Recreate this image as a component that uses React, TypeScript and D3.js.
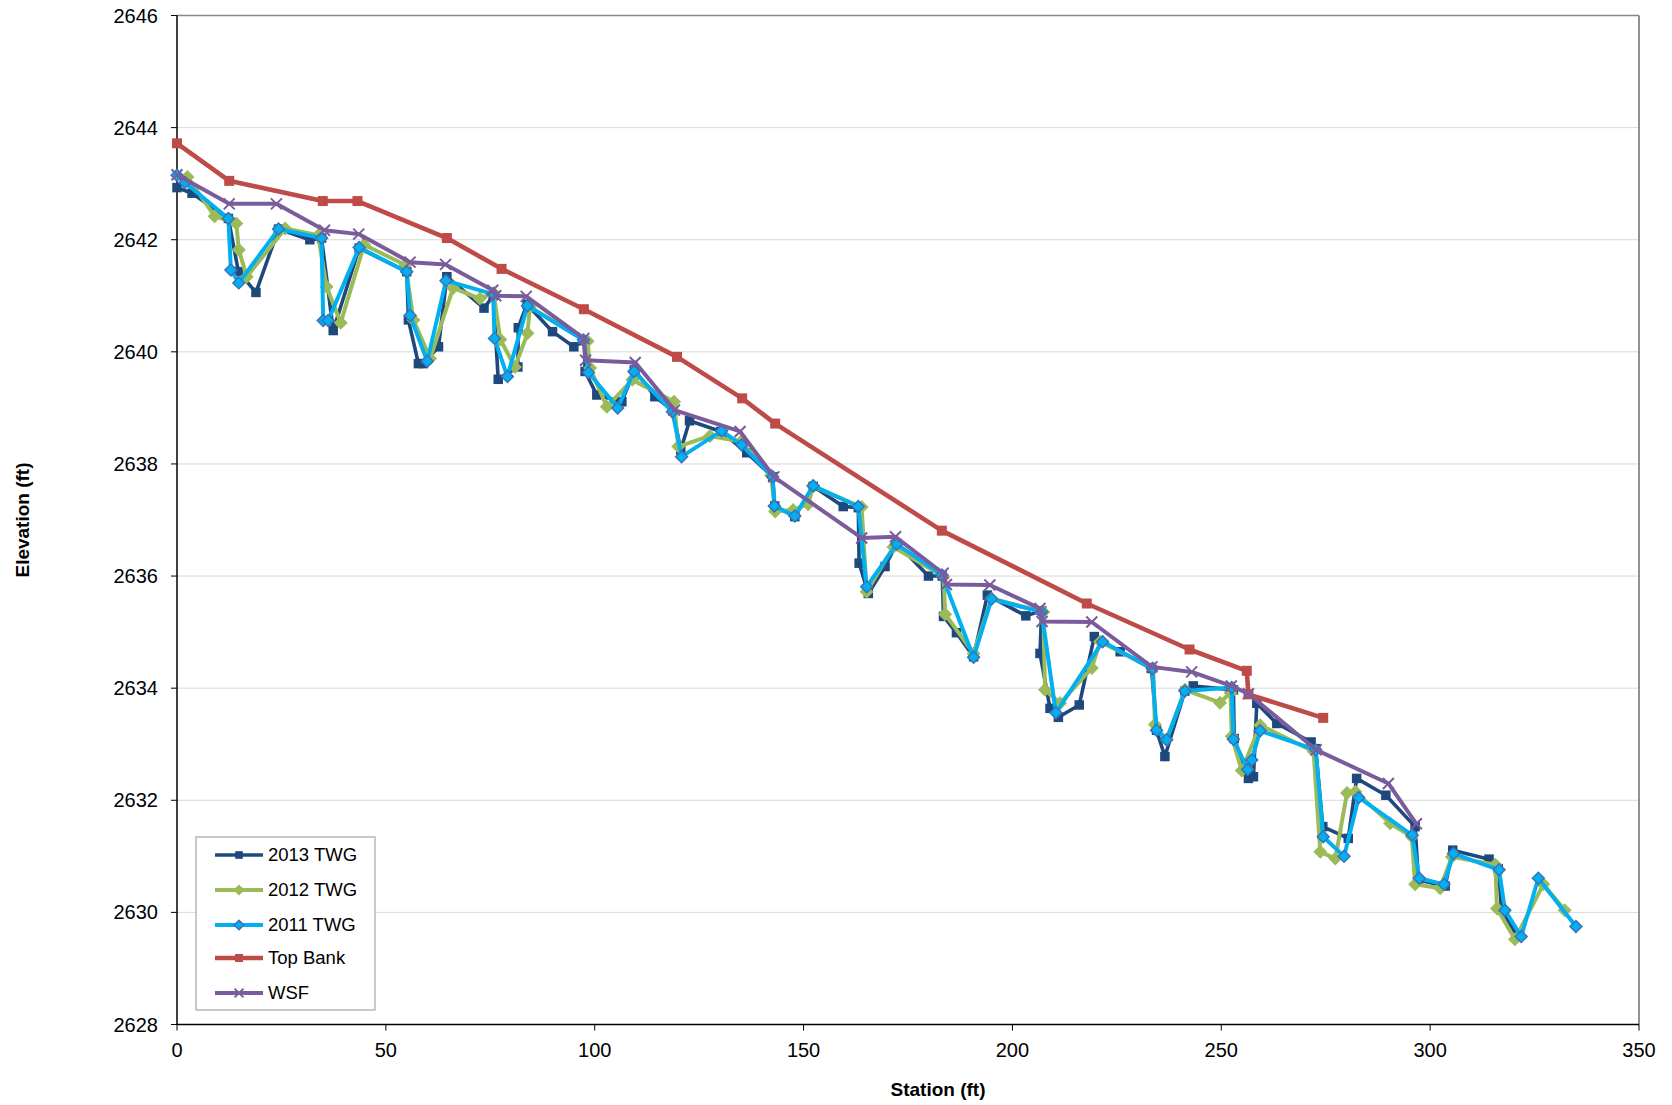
import React from "react";
import * as d3 from "d3";

type P = [number, number];

const twg2013: P[] = [
  [0, 2642.93], [3.6, 2642.83], [12.3, 2642.38], [14.7, 2641.43], [18.9, 2641.06], [24.3, 2642.19],
  [31.8, 2642.0], [34.6, 2642.03], [37.4, 2640.38], [43.6, 2641.85], [55.0, 2641.43], [55.4, 2640.57],
  [57.8, 2639.79], [59.0, 2639.79], [62.6, 2640.09], [64.6, 2641.34], [73.5, 2640.78], [75.7, 2641.0],
  [76.9, 2639.51], [81.6, 2639.73], [81.7, 2640.43], [83.8, 2640.85], [89.9, 2640.36], [95.0, 2640.09],
  [97.5, 2640.2], [97.7, 2639.65], [100.5, 2639.23], [106.5, 2639.11], [109.5, 2639.68], [114.4, 2639.2],
  [118.7, 2638.95], [120.6, 2638.25], [122.7, 2638.77], [130.2, 2638.58], [136.4, 2638.2], [142.6, 2637.77],
  [143.1, 2637.25], [147.9, 2637.06], [152.3, 2637.6], [159.5, 2637.24], [163.1, 2637.22], [163.3, 2636.23],
  [165.5, 2635.69], [169.5, 2636.17], [172.3, 2636.58], [179.9, 2636.0], [183.2, 2636.0], [183.5, 2635.28],
  [186.6, 2634.99], [190.7, 2634.56], [194.0, 2635.66], [203.2, 2635.29], [207.0, 2635.38], [206.6, 2634.62],
  [209.0, 2633.64], [211.0, 2633.48], [216.0, 2633.7], [219.6, 2634.92], [225.8, 2634.65], [233.3, 2634.35],
  [234.5, 2633.25], [236.5, 2632.78], [241.3, 2633.95], [243.3, 2634.04], [252.9, 2633.97], [253.1, 2633.1],
  [256.5, 2632.39], [257.7, 2632.42], [258.5, 2633.73], [263.3, 2633.37], [271.5, 2633.04], [272.6, 2632.92],
  [274.3, 2631.53], [280.4, 2631.32], [282.4, 2632.39], [289.4, 2632.09], [296.4, 2631.53], [297.2, 2630.58],
  [303.6, 2630.47], [305.4, 2631.11], [314.1, 2630.95], [316.3, 2630.78], [317.1, 2630.04], [320.7, 2629.6],
];

const twg2012: P[] = [
  [2.5, 2643.12], [9.0, 2642.42], [14.2, 2642.29], [14.8, 2641.82], [16.7, 2641.34], [25.9, 2642.2],
  [33.8, 2642.08], [35.8, 2641.16], [39.2, 2640.52], [44.8, 2641.91], [54.7, 2641.55], [56.6, 2640.57],
  [60.6, 2639.88], [66.1, 2641.14], [72.5, 2640.95], [75.8, 2641.05], [77.4, 2640.22], [80.9, 2639.73],
  [83.9, 2640.33], [84.5, 2640.8], [98.3, 2640.19], [98.9, 2639.71], [102.9, 2639.02], [109.0, 2639.5],
  [119.0, 2639.11], [120.0, 2638.31], [127.6, 2638.5], [135.0, 2638.4], [142.2, 2637.8], [143.2, 2637.15],
  [147.5, 2637.18], [151.1, 2637.28], [152.3, 2637.6], [163.9, 2637.23], [165.1, 2635.72], [171.5, 2636.52],
  [183.5, 2635.99], [183.9, 2635.32], [190.7, 2634.62], [195.0, 2635.6], [207.4, 2635.36], [207.8, 2633.97],
  [211.4, 2633.73], [219.0, 2634.36], [221.0, 2634.83], [233.7, 2634.35], [234.1, 2633.35], [236.9, 2633.08],
  [241.3, 2633.97], [249.7, 2633.74], [252.2, 2633.92], [252.5, 2633.14], [254.9, 2632.53], [259.3, 2633.34],
  [272.1, 2632.87], [273.7, 2631.08], [277.3, 2630.96], [280.1, 2632.13], [282.1, 2632.15], [290.4, 2631.59],
  [295.6, 2631.35], [296.4, 2630.5], [302.4, 2630.43], [305.2, 2630.99], [315.6, 2630.85], [316.0, 2630.07],
  [320.3, 2629.52], [327.1, 2630.5], [332.2, 2630.04],
];

const twg2011: P[] = [
  [0, 2643.15], [1.9, 2643.02], [12.3, 2642.38], [12.9, 2641.46], [14.8, 2641.23], [24.3, 2642.19],
  [34.6, 2642.03], [35.0, 2640.56], [36.2, 2640.56], [43.6, 2641.86], [55.0, 2641.43], [55.8, 2640.65],
  [59.9, 2639.83], [64.4, 2641.27], [75.7, 2641.03], [76.0, 2640.24], [79.1, 2639.56], [83.9, 2640.82],
  [97.3, 2640.21], [98.5, 2639.63], [105.5, 2639.0], [109.4, 2639.65], [118.6, 2638.93], [120.8, 2638.13],
  [130.4, 2638.59], [135.2, 2638.34], [142.6, 2637.77], [143.0, 2637.25], [147.9, 2637.07], [152.3, 2637.61],
  [163.1, 2637.24], [165.1, 2635.81], [172.3, 2636.57], [183.1, 2636.02], [190.7, 2634.55], [195.0, 2635.59],
  [207.0, 2635.36], [210.4, 2633.56], [221.6, 2634.83], [233.5, 2634.35], [234.5, 2633.25], [236.9, 2633.08],
  [241.3, 2633.95], [252.5, 2634.01], [252.9, 2633.09], [256.3, 2632.55], [257.3, 2632.72], [259.3, 2633.24],
  [272.6, 2632.9], [274.4, 2631.35], [279.4, 2631.0], [282.9, 2632.05], [295.7, 2631.38], [297.4, 2630.61],
  [303.3, 2630.5], [305.6, 2631.05], [316.5, 2630.76], [317.9, 2630.04], [321.8, 2629.57], [325.9, 2630.61],
  [334.9, 2629.75],
];

const topBank: P[] = [
  [0, 2643.72], [12.5, 2643.05], [34.9, 2642.69], [43.2, 2642.69], [64.6, 2642.03], [77.7, 2641.48],
  [97.4, 2640.76], [119.7, 2639.91], [135.3, 2639.17], [143.2, 2638.72], [183.1, 2636.81], [217.8, 2635.51],
  [242.4, 2634.69], [256.1, 2634.31], [256.5, 2633.89], [274.4, 2633.47],
];

const wsf: P[] = [
  [0, 2643.16], [12.5, 2642.64], [23.8, 2642.64], [35.3, 2642.17], [43.5, 2642.1], [55.8, 2641.6],
  [64.3, 2641.56], [75.6, 2641.1], [76.3, 2641.0], [83.6, 2640.99], [97.4, 2640.24], [97.8, 2639.85],
  [109.7, 2639.81], [119.1, 2638.96], [134.8, 2638.58], [142.9, 2637.77], [163.9, 2636.68], [172.0, 2636.7],
  [183.4, 2636.05], [184.2, 2635.85], [194.6, 2635.84], [206.6, 2635.42], [207.1, 2635.19], [219.0, 2635.18],
  [233.4, 2634.38], [242.9, 2634.29], [252.4, 2634.04], [256.5, 2633.9], [272.7, 2632.9], [290.0, 2632.3],
  [296.7, 2631.58],
];

const xTicks = [0, 50, 100, 150, 200, 250, 300, 350];
const yTicks = [2628, 2630, 2632, 2634, 2636, 2638, 2640, 2642, 2644, 2646];

const seriesNames = ["2013 TWG", "2012 TWG", "2011 TWG", "Top Bank", "WSF"];

type Marker = "square" | "diamond" | "diamondOutline" | "x";
const seriesStyles: { color: string; marker: Marker; size: number; width: number }[] = [
  { color: "#1F497D", marker: "square", size: 9.5, width: 3.6 },
  { color: "#9BBB59", marker: "diamond", size: 14, width: 4 },
  { color: "#00B0F0", marker: "diamondOutline", size: 12, width: 4 },
  { color: "#BE4B48", marker: "square", size: 10, width: 4.6 },
  { color: "#7A5C9C", marker: "x", size: 11, width: 4 },
];

const W = 1672;
const H = 1105;
const FONT = "'Liberation Sans', Arial, sans-serif";

function MarkerShape({ m, cx, cy, color, size }: { m: Marker; cx: number; cy: number; color: string; size: number }) {
  const h = size / 2;
  if (m === "square") return <rect x={cx - h} y={cy - h} width={size} height={size} fill={color} />;
  if (m === "diamond")
    return <path d={`M${cx},${cy - h}L${cx + h},${cy}L${cx},${cy + h}L${cx - h},${cy}Z`} fill={color} />;
  if (m === "diamondOutline")
    return (
      <path
        d={`M${cx},${cy - h}L${cx + h},${cy}L${cx},${cy + h}L${cx - h},${cy}Z`}
        fill={color}
        stroke="#3C6FB5"
        strokeWidth={1.4}
      />
    );
  return (
    <path
      d={`M${cx - h},${cy - h}L${cx + h},${cy + h}M${cx - h},${cy + h}L${cx + h},${cy - h}`}
      stroke={color}
      strokeWidth={2}
      fill="none"
    />
  );
}

export default function App() {
  const x = d3.scaleLinear().domain([0, 350]).range([177, 1639]);
  const y = d3.scaleLinear().domain([2628, 2646]).range([1024.5, 15.5]);
  const line = d3
    .line<P>()
    .x((d) => x(d[0]))
    .y((d) => y(d[1]));
  const allSeries = [twg2013, twg2012, twg2011, topBank, wsf];

  const legendX = 196;
  const legendY = 837;
  const legendRowY = [855, 890, 925, 958, 993];

  return (
    <svg
      width={W}
      height={H}
      style={{ position: "absolute", left: 0, top: 0, background: "#fff" }}
      fontFamily={FONT}
    >
      <rect x={0} y={0} width={W} height={H} fill="#fff" />
      {yTicks.slice(1, -1).map((t) => (
        <line key={t} x1={x(0)} x2={x(350)} y1={y(t)} y2={y(t)} stroke="#D9D9D9" strokeWidth={1} />
      ))}
      <line x1={x(0)} x2={x(350)} y1={y(2646)} y2={y(2646)} stroke="#868686" strokeWidth={1.5} />
      <line x1={x(350)} x2={x(350)} y1={y(2646)} y2={y(2628)} stroke="#6E6E6E" strokeWidth={1.5} />
      <line x1={x(0)} x2={x(0)} y1={y(2646)} y2={y(2628)} stroke="#000" strokeWidth={1.5} />
      <line x1={x(0)} x2={x(350)} y1={y(2628)} y2={y(2628)} stroke="#000" strokeWidth={1.5} />
      {yTicks.map((t) => (
        <g key={t}>
          <line x1={x(0) - 6} x2={x(0)} y1={y(t)} y2={y(t)} stroke="#000" strokeWidth={1} />
          <text x={158} y={y(t)} dy="0.35em" textAnchor="end" fontSize={20} fill="#000">
            {t}
          </text>
        </g>
      ))}
      {xTicks.map((t) => (
        <g key={t}>
          <line x1={x(t)} x2={x(t)} y1={y(2628)} y2={y(2628) + 6} stroke="#000" strokeWidth={1} />
          <text x={x(t)} y={1050} dy="0.35em" textAnchor="middle" fontSize={20} fill="#000">
            {t}
          </text>
        </g>
      ))}
      <text x={938} y={1089} dy="0.35em" textAnchor="middle" fontSize={19} fontWeight="bold" fill="#000">
        Station (ft)
      </text>
      <text
        transform={`translate(22,${(y(2646) + y(2628)) / 2}) rotate(-90)`}
        dy="0.35em"
        textAnchor="middle"
        fontSize={19}
        fontWeight="bold"
        fill="#000"
      >
        Elevation (ft)
      </text>
      {allSeries.map((data, i) => {
        const s = seriesStyles[i];
        return (
          <g key={seriesNames[i]}>
            <path d={line(data) || ""} fill="none" stroke={s.color} strokeWidth={s.width} strokeLinejoin="round" />
            {data.map((d, j) => (
              <MarkerShape key={j} m={s.marker} cx={x(d[0])} cy={y(d[1])} color={s.color} size={s.size} />
            ))}
          </g>
        );
      })}
      <rect x={legendX} y={legendY} width={179} height={173} fill="#fff" stroke="#A6A6A6" strokeWidth={1.2} />
      {seriesNames.map((n, i) => {
        const s = seriesStyles[i];
        const ly = legendRowY[i];
        return (
          <g key={n}>
            <line x1={215} x2={263} y1={ly} y2={ly} stroke={s.color} strokeWidth={s.width} />
            <MarkerShape m={s.marker} cx={239} cy={ly} color={s.color} size={s.size * 0.8} />
            <text x={268} y={ly} dy="0.35em" fontSize={18.5} fill="#000">
              {n}
            </text>
          </g>
        );
      })}
    </svg>
  );
}
